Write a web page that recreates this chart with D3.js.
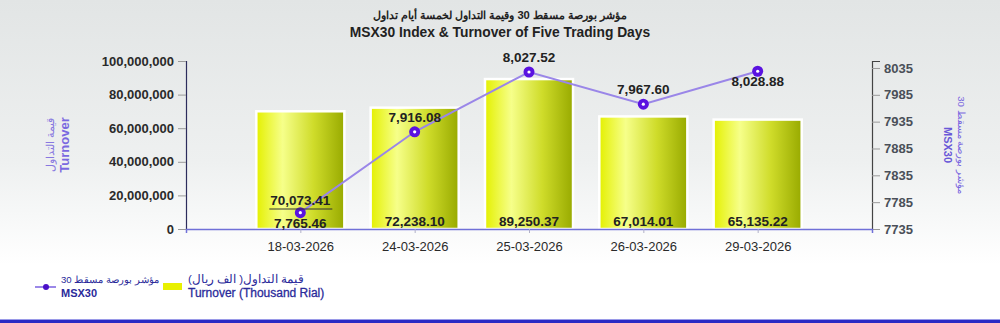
<!DOCTYPE html>
<html>
<head>
<meta charset="utf-8">
<script src="https://cdn.jsdelivr.net/npm/d3@7"></script>
<style>
  body { margin: 0; background: #fff; }
  svg { display: block; font-family: "Liberation Sans", Arial, sans-serif; }
</style>
</head>
<body>
<svg id="chart"></svg>
<script>
const dates = ['18-03-2026', '24-03-2026', '25-03-2026', '26-03-2026', '29-03-2026'];
const turnover = [70073.41, 72238.10, 89250.37, 67014.01, 65135.22]; // thousand rial
const msx30 = [7765.46, 7916.08, 8027.52, 7967.60, 8028.88];
const leftTicks = [0, 20000000, 40000000, 60000000, 80000000, 100000000];
const rightTicks = [7735, 7785, 7835, 7885, 7935, 7985, 8035];
const labelSide = ['below', 'above', 'above', 'above', 'below'];

const width = 1000;
const height = 323;
const plotLeft = 186, plotRight = 872, plotTop = 61, plotBottom = 229;

const svg = d3.select('#chart')
              .attr('width', width)
              .attr('height', height)

const defs = svg.append('defs');

const bg = defs.append('linearGradient')
              .attr('id', 'bg')
              .attr('x1', 0).attr('y1', 0).attr('x2', 0).attr('y2', 1)
bg.append('stop').attr('offset', '0%').attr('stop-color', '#e2e5e5')
bg.append('stop').attr('offset', '50%').attr('stop-color', '#eef0f0')
bg.append('stop').attr('offset', '82%').attr('stop-color', '#ffffff')

const barGrad = defs.append('linearGradient')
              .attr('id', 'bar')
              .attr('x1', 0).attr('y1', 0).attr('x2', 1).attr('y2', 0)
barGrad.append('stop').attr('offset', '0%').attr('stop-color', '#e4f000')
barGrad.append('stop').attr('offset', '30%').attr('stop-color', '#f6ff8a')
barGrad.append('stop').attr('offset', '65%').attr('stop-color', '#cfdc2a')
barGrad.append('stop').attr('offset', '100%').attr('stop-color', '#98aa00')

svg.append('rect')
    .attr('width', width)
    .attr('height', height)
    .attr('fill', 'url(#bg)')

//scales
const x = d3.scalePoint()
            .domain(dates)
            .range([plotLeft, plotRight])
            .padding(1)

const yLeft = d3.scaleLinear()
            .domain([0, 100000000])
            .range([plotBottom, plotTop])

const yRight = d3.scaleLinear()
            .domain([7735, 8048])
            .range([plotBottom, plotTop])

const barW = x.step() * 0.77;

//title
svg.append('text')
    .attr('x', 500).attr('y', 19)
    .attr('text-anchor', 'middle')
    .style('font-size', '11.2px').style('font-weight', 'bold').attr('fill', '#222')
    .text('مؤشر بورصة مسقط 30 وقيمة التداول لخمسة أيام تداول')
svg.append('text')
    .attr('x', 500).attr('y', 37)
    .attr('text-anchor', 'middle')
    .style('font-size', '13.8px').style('font-weight', 'bold').attr('fill', '#222')
    .text('MSX30 Index & Turnover of Five Trading Days')

//bars
svg.selectAll('rect.bar')
    .data(turnover)
    .join('rect')
    .attr('class', 'bar')
    .attr('x', (d, i) => x(dates[i]) - barW / 2)
    .attr('y', d => yLeft(d * 1000))
    .attr('width', barW)
    .attr('height', d => plotBottom - yLeft(d * 1000))
    .attr('fill', 'url(#bar)')
    .attr('stroke', '#ffffff')
    .attr('stroke-width', 2.5)

//left axis
const gLeft = svg.append('g')
    .attr('transform', `translate(${plotLeft},0)`)
    .call(d3.axisLeft(yLeft).tickValues(leftTicks).tickFormat(d3.format(',')).tickSize(8).tickPadding(4))
gLeft.select('.domain').attr('stroke', '#2c2c5c').attr('stroke-width', 1.2)
gLeft.selectAll('.tick line').attr('stroke', '#9a9a9a')
gLeft.selectAll('text')
    .attr('fill', '#2a2a2a')
    .style('font-size', '13px').style('font-weight', 'bold')
    .style('font-family', '"Liberation Sans", Arial, sans-serif')

//right axis
const gRight = svg.append('g')
    .attr('transform', `translate(${plotRight},0)`)
    .call(d3.axisRight(yRight).tickValues(rightTicks).tickFormat(d3.format('d')).tickSize(8).tickPadding(4))
gRight.select('.domain').attr('stroke', '#444').attr('stroke-width', 1.2)
gRight.selectAll('.tick line').attr('stroke', '#9a9a9a')
gRight.selectAll('text')
    .attr('fill', '#4a4f58')
    .style('font-size', '13px').style('font-weight', 'bold')
    .style('font-family', '"Liberation Sans", Arial, sans-serif')

//x axis
const gX = svg.append('g')
    .attr('transform', `translate(0,${plotBottom})`)
    .call(d3.axisBottom(x).tickSize(4).tickPadding(9))
gX.select('.domain').attr('stroke', '#7070d8').attr('stroke-width', 1.5)
gX.selectAll('.tick line').attr('stroke', '#b0b0c8')
gX.selectAll('text')
    .attr('fill', '#2a2a2a')
    .style('font-size', '13px')
    .style('font-family', '"Liberation Sans", Arial, sans-serif')

//axis titles
const lt = svg.append('text')
    .attr('transform', 'translate(54,145) rotate(-90)')
    .attr('text-anchor', 'middle')
lt.append('tspan').attr('x', 0).attr('dy', 0)
    .style('font-size', '11px').attr('fill', '#8878e0')
    .text('قيمة التداول')
lt.append('tspan').attr('x', 0).attr('dy', 15)
    .style('font-size', '13px').style('font-weight', 'bold').attr('fill', '#7a68e0')
    .text('Turnover')

const rt = svg.append('text')
    .attr('transform', 'translate(958,145) rotate(90)')
    .attr('text-anchor', 'middle')
rt.append('tspan').attr('x', 0).attr('dy', 0)
    .style('font-size', '9.6px').attr('fill', '#7a68e0')
    .text('مؤشر بورصة مسقط 30')
rt.append('tspan').attr('x', 0).attr('dy', 14)
    .style('font-size', '11px').style('font-weight', 'bold').attr('fill', '#6a58d8')
    .text('MSX30')

//line
const line = d3.line()
    .x((d, i) => x(dates[i]))
    .y(d => yRight(d))
svg.append('path')
    .datum(msx30)
    .attr('d', line)
    .attr('fill', 'none')
    .attr('stroke', '#9a86e8')
    .attr('stroke-width', 2)

svg.selectAll('circle.pt')
    .data(msx30)
    .join('circle')
    .attr('class', 'pt')
    .attr('cx', (d, i) => x(dates[i]))
    .attr('cy', d => yRight(d))
    .attr('r', 5.5)
    .attr('fill', '#5a12e0')
svg.selectAll('circle.dot')
    .data(msx30)
    .join('circle')
    .attr('class', 'dot')
    .attr('cx', (d, i) => x(dates[i]))
    .attr('cy', d => yRight(d))
    .attr('r', 1.6)
    .attr('fill', '#fff')

//bar labels
const fmt2 = d3.format(',.2f');
svg.selectAll('text.barlab')
    .data(turnover)
    .join('text')
    .attr('class', 'barlab')
    .attr('x', (d, i) => x(dates[i]))
    .attr('y', (d, i) => i === 0 ? 205 : 226)
    .attr('text-anchor', 'middle')
    .style('font-size', '13.5px').style('font-weight', 'bold').attr('fill', '#222')
    .text(d => fmt2(d))

// leader under the first bar label
svg.append('line')
    .attr('x1', x(dates[0]) - 31).attr('x2', x(dates[0]) + 32)
    .attr('y1', 209).attr('y2', 209)
    .attr('stroke', '#333').attr('stroke-width', 1)

//line labels
svg.selectAll('text.linelab')
    .data(msx30)
    .join('text')
    .attr('class', 'linelab')
    .attr('x', (d, i) => x(dates[i]))
    .attr('y', (d, i) => yRight(d) + (labelSide[i] === 'below' ? 15 : -10))
    .attr('text-anchor', 'middle')
    .style('font-size', '13.5px').style('font-weight', 'bold').attr('fill', '#222')
    .text(d => fmt2(d))

//legend
const leg = svg.append('g')
leg.append('line')
    .attr('x1', 35).attr('x2', 56).attr('y1', 287).attr('y2', 287)
    .attr('stroke', '#7a60e0').attr('stroke-width', 1.5)
leg.append('circle')
    .attr('cx', 46).attr('cy', 287).attr('r', 3)
    .attr('fill', '#4a10c8')
leg.append('text')
    .attr('x', 61).attr('y', 283)
    .style('font-size', '9.6px').attr('fill', '#2a2a9a')
    .text('مؤشر بورصة مسقط 30')
leg.append('text')
    .attr('x', 61).attr('y', 297)
    .style('font-size', '11px').style('font-weight', 'bold').attr('fill', '#2a2a9a')
    .text('MSX30')
leg.append('rect')
    .attr('x', 163).attr('y', 283).attr('width', 19).attr('height', 7)
    .attr('fill', '#e8f000')
leg.append('text')
    .attr('x', 188).attr('y', 283)
    .style('font-size', '11.5px').attr('fill', '#2a2a9a')
    .text('قيمة التداول( الف ريال)')
leg.append('text')
    .attr('x', 188).attr('y', 297)
    .style('font-size', '12px').attr('fill', '#2a2a9a')
    .attr('stroke', '#2a2a9a').attr('stroke-width', 0.3)
    .text('Turnover (Thousand Rial)')

//bottom border
svg.append('rect')
    .attr('x', 0).attr('y', 319).attr('width', width).attr('height', 1)
    .attr('fill', '#9a9ae8')
svg.append('rect')
    .attr('x', 0).attr('y', 320).attr('width', width).attr('height', 3)
    .attr('fill', '#2a2ac4')
</script>
</body>
</html>
